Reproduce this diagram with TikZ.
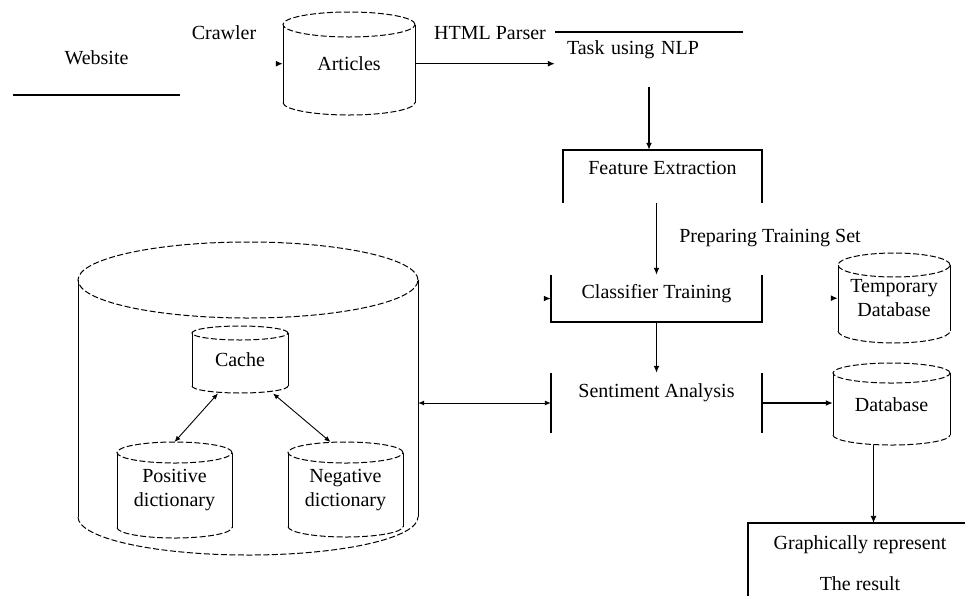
\documentclass[tikz,border=0pt]{standalone}
\usepackage{fontspec}
\setmainfont{Liberation Serif}
\usetikzlibrary{positioning, arrows.meta, calc}

% drum: name, centre x, top y, width, height, rim radius, text
\newcommand{\drum}[7]{%
  \node[drumbox, minimum width=#4pt, minimum height=#5pt] (#1) at (#2,#3) {#7};
  \draw[rim] (#2,{#3+#6}) ellipse [x radius={#4/2*1pt}, y radius={#6*1pt}];
  \draw[wall] ({#2-#4/2},{#3+#6}) -- ({#2-#4/2},{#3+#5-#6});
  \draw[wall] ({#2+#4/2},{#3+#6}) -- ({#2+#4/2},{#3+#5-#6});
  \draw[rim] ({#2-#4/2},{#3+#5-#6}) arc[start angle=180, end angle=360,
    x radius={#4/2*1pt}, y radius={#6*1pt}];
}

\begin{document}
\begin{tikzpicture}[x=1pt, y=-1pt,
    every node/.style={font=\fontsize{20}{24}\selectfont},
    lbl/.style={inner sep=0pt},
    stage/.style={inner sep=0pt},
    lift/.style={text height=14pt, text depth=#1},
    drumbox/.style={inner sep=0pt, anchor=north, align=center},
    rim/.style={line width=1pt, dash pattern=on 6pt off 2.5pt},
    wall/.style={line width=1pt},
    edge/.style={line width=1.6pt},
    flow/.style={-{Latex[length=7pt, width=6pt]}, line width=1.4pt},
    thinflow/.style={-{Latex[length=7pt, width=6pt]}, line width=0.9pt},
    both/.style={{Latex[length=6pt, width=5pt]}-{Latex[length=6pt, width=5pt]}, line width=0.9pt},
  ]
  \useasboundingbox (0,0) rectangle (965,595);

  % stores
  \drum{store}{248}{242}{340}{313}{38}{}
  \drum{cache}{240}{326}{96}{67}{7}{Cache}
  \drum{pos}{174.5}{442}{115}{96}{10.5}{Positive\\dictionary}
  \drum{neg}{345.5}{442}{115}{95}{10.5}{Negative\\dictionary}
  \drum{articles}{349}{12}{132}{103}{12.5}{Articles}
  \drum{temp}{894}{253}{112}{90}{12}{Temporary\\Database}
  \drum{db}{891.5}{363}{117}{82}{10}{Database}

  % stages
  \node[stage, minimum width=167pt, minimum height=74pt] (web) at (96.5,58) {Website};
  \node[stage, text width=164pt, inner xsep=12pt, align=left,
        minimum height=55pt, lift=24pt] (nlp) at (649,59.5) {Task using NLP};
  \node[stage, minimum width=199pt, minimum height=53pt, lift=18pt] (feat) at (662.5,176.5) {Feature Extraction};
  \node[stage, minimum width=211pt, minimum height=47pt, lift=14pt] (cls) at (656.5,298.5) {Classifier Training};
  \node[stage, minimum width=211pt, minimum height=60pt, lift=25pt] (sent) at (656.5,403) {Sentiment Analysis};
  \node[stage, minimum width=224pt, minimum height=80pt, align=center] (graph) at (860,563)
    {Graphically represent\\[17pt]The result};

  \draw[edge] (web.south west) -- (web.south east);
  \draw[edge] (nlp.north west) -- (nlp.north east);
  \draw[edge] (feat.south west) -- (feat.north west) -- (feat.north east) -- (feat.south east);
  \draw[edge] (cls.north west) -- (cls.south west) -- (cls.south east) -- (cls.north east);
  \draw[edge] (sent.north west) -- (sent.south west);
  \draw[edge] (sent.north east) -- (sent.south east);
  \draw[edge] (graph.south west) -- (graph.north west) -- (graph.north east);

  % labels
  \node[lbl] (crawler) at (224,33) {Crawler};
  \node[lbl] (parser) at (490,33) {HTML Parser};
  \node[lbl] (prep) at (770,238) {Preparing Training Set};

  % connectors
  \coordinate (artin) at ([xshift=-7pt]articles.west);
  \coordinate (clsin) at ([xshift=-7pt]cls.west);
  \coordinate (tempin) at ([xshift=-7pt]temp.west);
  \draw[flow] (artin) -- (articles.west);
  \draw[flow] (clsin) -- (cls.west);
  \draw[flow] (tempin) -- (temp.west);
  \draw[flow] (articles.east) -- (articles.east -| nlp.west);
  \draw[flow] (nlp.south) -- (nlp.south |- feat.north);
  \draw[flow] (feat.south -| cls.north) -- (cls.north);
  \draw[flow] (cls.south) -- (sent.north);
  \draw[both] (sent.west -| store.east) -- (sent.west);
  \draw[flow] (sent.east) -- (sent.east -| db.west);
  \draw[thinflow] ([xshift=-18pt]db.south) -- ([xshift=-18pt]db.south |- graph.north);
  \draw[both] ([xshift=-22pt]cache.south) -- (pos.north);
  \draw[both] ([xshift=33pt]cache.south) -- ([xshift=-15pt]neg.north);
\end{tikzpicture}
\end{document}
